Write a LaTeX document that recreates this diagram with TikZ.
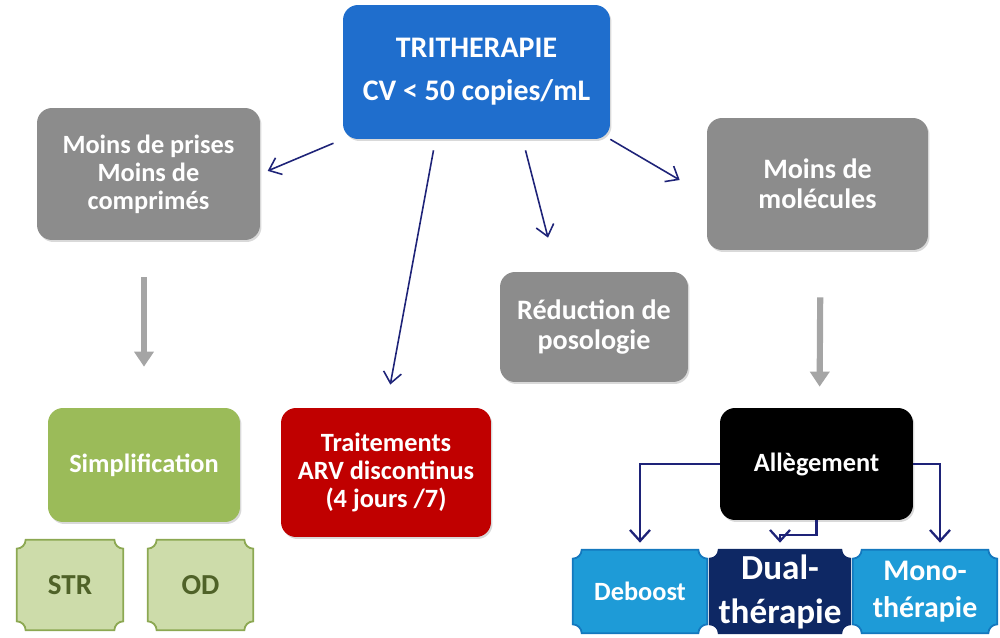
\documentclass[tikz,border=0pt]{standalone}
\usepackage{fontspec}
\setmainfont{Carlito}
\usepackage{tikz}
\usetikzlibrary{arrows.meta,calc,backgrounds,shadows}
\definecolor{tribleu}{RGB}{31,110,205}
\definecolor{grisbox}{RGB}{140,140,140}
\definecolor{vertsimpl}{RGB}{155,187,89}
\definecolor{rougearv}{RGB}{192,0,0}
\definecolor{strfill}{RGB}{205,220,170}
\definecolor{strline}{RGB}{140,168,82}
\definecolor{strtext}{RGB}{79,98,40}
\definecolor{bleuclair}{RGB}{30,155,215}
\definecolor{bleuclairline}{RGB}{20,120,190}
\definecolor{marine}{RGB}{14,40,100}
\definecolor{flechebleu}{RGB}{30,35,120}
\definecolor{flechegris}{RGB}{165,165,165}
\tikzset{
    font={\fontsize{15pt}{16pt}\selectfont\bfseries},
    box/.style={
           rectangle,
           rounded corners=0.3cm,
           text=white,
           align=center,
           inner sep=2pt,
           drop shadow={opacity=0.3, shadow xshift=0.03cm, shadow yshift=-0.04cm},
           },
    ticket/.style={
           rectangle,
           draw=none,
           align=center,
           inner sep=0pt,
           },
    link/.style={draw=flechebleu, line width=0.9pt, -{Straight Barb[length=2.2mm,width=3.6mm]}},
    elbow/.style={draw=flechebleu, line width=1.3pt, -{Straight Barb[length=2.2mm,width=4mm]}},
    grosfleche/.style={draw=flechegris, line width=3.5pt, -{Triangle[length=0.3cm,width=0.38cm]}},
}
\begin{document}
\begin{tikzpicture}[x=0.02cm,y=-0.02cm]
\useasboundingbox (0,0) rectangle (1000,638);

% top box
\node[box, fill=tribleu, minimum width=5.34cm, minimum height=2.68cm,
      font={\fontsize{17pt}{24.5pt}\selectfont\bfseries}] (TRI) at (476.5,72)
      {TRITHERAPIE\\CV < 50 copies/mL};

% second row
\node[box, fill=grisbox, minimum width=4.46cm, minimum height=2.64cm] (PRISES) at (148.5,174)
      {Moins de prises\\Moins de\\comprimés};
\node[box, fill=grisbox, minimum width=4.42cm, minimum height=2.64cm,
      font={\fontsize{16pt}{17pt}\selectfont\bfseries}] (MOLECULES) at (817.5,184)
      {Moins de\\molécules};
\node[box, fill=grisbox, minimum width=3.76cm, minimum height=2.2cm,
      font={\fontsize{16pt}{17pt}\selectfont\bfseries}] (REDUCTION) at (594,327)
      {Réduction de\\posologie};

% third row
\node[box, fill=vertsimpl, minimum width=3.84cm, minimum height=2.28cm] (SIMPL) at (144,465)
      {Simplification};
\node[box, fill=rougearv, minimum width=4.2cm, minimum height=2.58cm] (ARV) at (386,472.5)
      {Traitements\\ARV discontinus\\(4 jours /7)};
\node[box, fill=black, minimum width=3.86cm, minimum height=2.24cm] (ALLEG) at (816.5,464)
      {Allègement};

% bottom row
\node[ticket, text=strtext, minimum width=2.12cm, minimum height=1.8cm,
      font={\fontsize{16.5pt}{18pt}\selectfont\bfseries}] (STR) at (70,585) {STR};
\node[ticket, text=strtext, minimum width=2.1cm, minimum height=1.8cm,
      font={\fontsize{16.5pt}{18pt}\selectfont\bfseries}] (OD) at (200.5,585) {OD};
\node[ticket, text=white, minimum width=2.68cm, minimum height=1.66cm] (DEBOOST) at (640,591.5) {Deboost};
\node[ticket, text=white, minimum width=2.8cm, minimum height=1.66cm,
      font={\fontsize{20pt}{25pt}\selectfont\bfseries}] (DUAL) at (780,591.5) {Dual-\\thérapie};
\node[ticket, text=white, minimum width=2.88cm, minimum height=1.66cm,
      font={\fontsize{17pt}{21pt}\selectfont\bfseries}] (MONO) at (925,591.5) {Mono-\\thérapie};

% plaques with hollow corners
\begin{scope}[on background layer]
\foreach \n/\fc/\dc in {STR/strfill/strline, OD/strfill/strline, DEBOOST/bleuclair/bleuclairline,
                        DUAL/marine/marine, MONO/bleuclair/bleuclairline}{
  \filldraw[fill=\fc, draw=\dc, line width=1pt]
    ($(\n.north west)+(9,0)$) -- ($(\n.north east)+(-9,0)$)
    arc[start angle=180, end angle=270, radius=0.18cm]
    -- ($(\n.south east)+(0,-9)$)
    arc[start angle=90, end angle=180, radius=0.18cm]
    -- ($(\n.south west)+(9,0)$)
    arc[start angle=0, end angle=90, radius=0.18cm]
    -- ($(\n.north west)+(0,9)$)
    arc[start angle=270, end angle=360, radius=0.18cm]
    -- cycle;
}
\end{scope}

% thin arrows from the top box
\draw[link, shorten <=0.2cm, shorten >=0.16cm] (TRI.south west) -- (PRISES.east);
\draw[link, shorten >=0.47cm] ($(TRI.south)+(-43,11)$) -- (ARV.north);
\draw[link] ($(TRI.south)+(49,11)$) -- ($(REDUCTION.north)+(-46,-34)$);
\draw[link] (TRI.south east) -- ($(MOLECULES.west)+(-27,-4)$);

% grey arrows
\draw[grosfleche, shorten <=0.74cm, shorten >=0.82cm] (SIMPL.north |- PRISES.south) -- (SIMPL.north);
\draw[grosfleche, shorten <=0.94cm, shorten >=0.42cm] ($(MOLECULES.south)+(3,0)$) -- ($(ALLEG.north)+(3,0)$);

% Allegement branches
\draw[elbow, shorten >=0.14cm] (ALLEG.west) -| (DEBOOST.north);
\draw[elbow, shorten >=0.14cm] (ALLEG.south) -- ++(0,15) -| (DUAL.north);
\draw[elbow, shorten >=0.14cm] (ALLEG.east) -| ($(MONO.north)+(15,0)$);

\end{tikzpicture}
\end{document}
